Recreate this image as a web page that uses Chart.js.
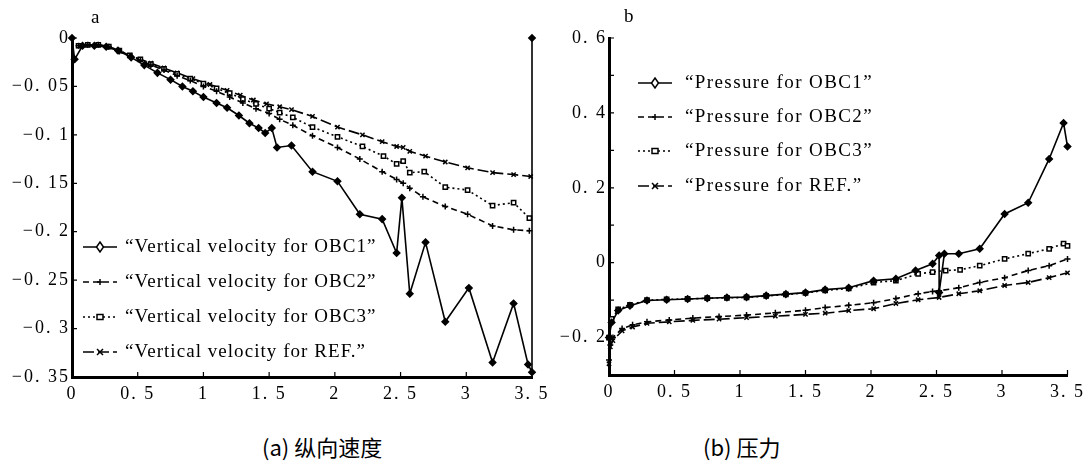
<!DOCTYPE html>
<html>
<head>
<meta charset="utf-8">
<script src="https://cdn.jsdelivr.net/npm/chart.js@4.4.1/dist/chart.umd.min.js"></script>
<style>
  body { margin: 0; background: #fff; width: 1091px; height: 468px; position: relative; overflow: hidden; }
  .panel { position: absolute; top: 0; }
  #wrapA { left: 0; }
  #wrapB { left: 560px; }
  .tag { position: absolute; font-family: "Liberation Serif", serif; font-size: 19px; color: #000; }
  .caption { position: absolute; top: 432px; font-family: "Noto Sans CJK SC", sans-serif; font-size: 22px; color: #000; line-height: 28px; }
</style>
</head>
<body>
<div class="panel" id="wrapA"><canvas id="chartA" width="560" height="410"></canvas></div>
<div class="panel" id="wrapB"><canvas id="chartB" width="531" height="410"></canvas></div>
<div class="tag" style="left:91px; top:6px;">a</div>
<div class="tag" style="left:624px; top:5px;">b</div>
<div class="caption" style="left:262px;">(a) 纵向速度</div>
<div class="caption" style="left:703px;">(b) 压力</div>

<script>
// === (a) vertical velocity ===
const aObc1X = [0, 0.02, 0.08, 0.17, 0.26, 0.35, 0.45, 0.55, 0.65, 0.75, 0.84, 0.92, 1.0, 1.1, 1.18, 1.27, 1.35, 1.42, 1.47, 1.52, 1.56, 1.67, 1.83, 2.02, 2.19, 2.36, 2.47, 2.51, 2.57, 2.69, 2.84, 3.02, 3.2, 3.36, 3.47, 3.5, 3.5];
const aObc1Y = [0, -0.022, -0.008, -0.008, -0.009, -0.013, -0.02, -0.028, -0.036, -0.043, -0.05, -0.055, -0.061, -0.067, -0.072, -0.08, -0.088, -0.093, -0.098, -0.093, -0.113, -0.111, -0.138, -0.148, -0.182, -0.187, -0.222, -0.165, -0.264, -0.211, -0.293, -0.258, -0.335, -0.274, -0.337, -0.345, 0];

const aObc2X = [0.05, 0.12, 0.2, 0.28, 0.36, 0.44, 0.52, 0.6, 0.7, 0.8, 0.9, 1.0, 1.1, 1.2, 1.3, 1.4, 1.5, 1.58, 1.68, 1.83, 2.02, 2.19, 2.36, 2.47, 2.52, 2.57, 2.67, 2.84, 3.01, 3.2, 3.36, 3.48];
const aObc2Y = [-0.008, -0.007, -0.007, -0.009, -0.014, -0.019, -0.023, -0.028, -0.033, -0.039, -0.044, -0.05, -0.055, -0.061, -0.067, -0.073, -0.078, -0.084, -0.09, -0.101, -0.113, -0.125, -0.138, -0.146, -0.15, -0.155, -0.164, -0.174, -0.182, -0.194, -0.198, -0.199];

const aObc3X = [0.05, 0.12, 0.2, 0.28, 0.36, 0.44, 0.52, 0.6, 0.7, 0.8, 0.9, 1.0, 1.1, 1.2, 1.3, 1.4, 1.5, 1.58, 1.68, 1.83, 2.02, 2.21, 2.37, 2.47, 2.52, 2.57, 2.68, 2.84, 3.01, 3.2, 3.36, 3.48];
const aObc3Y = [-0.008, -0.007, -0.007, -0.009, -0.013, -0.018, -0.022, -0.027, -0.032, -0.037, -0.042, -0.047, -0.052, -0.057, -0.063, -0.068, -0.073, -0.077, -0.082, -0.092, -0.102, -0.112, -0.122, -0.13, -0.127, -0.139, -0.138, -0.154, -0.157, -0.173, -0.17, -0.186];

const aRefX = [0.05, 0.12, 0.2, 0.28, 0.36, 0.44, 0.52, 0.6, 0.7, 0.8, 0.92, 1.05, 1.18, 1.28, 1.38, 1.48, 1.58, 1.67, 1.83, 2.02, 2.21, 2.36, 2.47, 2.52, 2.57, 2.69, 2.84, 3.01, 3.2, 3.36, 3.49];
const aRefY = [-0.008, -0.007, -0.007, -0.009, -0.013, -0.018, -0.022, -0.026, -0.031, -0.036, -0.042, -0.048, -0.054, -0.059, -0.064, -0.068, -0.071, -0.074, -0.081, -0.092, -0.1, -0.107, -0.112, -0.113, -0.117, -0.122, -0.128, -0.134, -0.139, -0.141, -0.143];

const aLabels = ["\u201cVertical velocity for OBC1\u201d", "\u201cVertical velocity for OBC2\u201d", "\u201cVertical velocity for OBC3\u201d", "\u201cVertical velocity for REF.\u201d"];

// === (b) pressure ===
const bObc1X = [0, 0.02, 0.07, 0.16, 0.29, 0.44, 0.6, 0.75, 0.9, 1.05, 1.2, 1.35, 1.5, 1.65, 1.83, 2.02, 2.19, 2.34, 2.47, 2.52, 2.52, 2.56, 2.67, 2.83, 3.02, 3.2, 3.36, 3.47, 3.5];
const bObc1Y = [-0.2, -0.16, -0.128, -0.115, -0.101, -0.099, -0.097, -0.095, -0.093, -0.092, -0.088, -0.084, -0.08, -0.072, -0.067, -0.048, -0.043, -0.021, -0.003, 0.019, -0.08, 0.024, 0.024, 0.037, 0.13, 0.16, 0.277, 0.373, 0.31];

const bObc2X = [0, 0.01, 0.03, 0.1, 0.18, 0.29, 0.46, 0.64, 0.84, 1.05, 1.27, 1.5, 1.65, 1.83, 2.02, 2.19, 2.36, 2.47, 2.52, 2.67, 2.83, 3.02, 3.2, 3.36, 3.5];
const bObc2Y = [-0.26, -0.22, -0.2, -0.176, -0.166, -0.158, -0.153, -0.148, -0.144, -0.14, -0.134, -0.127, -0.12, -0.114, -0.107, -0.096, -0.083, -0.077, -0.075, -0.067, -0.053, -0.04, -0.021, -0.008, 0.01];

const bObc3X = [0, 0.02, 0.07, 0.16, 0.29, 0.44, 0.6, 0.75, 0.9, 1.05, 1.2, 1.35, 1.5, 1.65, 1.83, 2.02, 2.19, 2.36, 2.47, 2.57, 2.68, 2.83, 3.02, 3.2, 3.36, 3.47, 3.5];
const bObc3Y = [-0.2, -0.15, -0.125, -0.113, -0.1, -0.098, -0.097, -0.095, -0.094, -0.093, -0.089, -0.085, -0.081, -0.074, -0.069, -0.053, -0.048, -0.03, -0.025, -0.021, -0.019, -0.008, 0.01, 0.024, 0.037, 0.051, 0.045];

const bRefX = [0, 0.01, 0.03, 0.1, 0.18, 0.29, 0.46, 0.64, 0.84, 1.05, 1.27, 1.5, 1.65, 1.83, 2.02, 2.19, 2.36, 2.52, 2.67, 2.83, 3.02, 3.2, 3.36, 3.5];
const bRefY = [-0.27, -0.225, -0.208, -0.182, -0.172, -0.162, -0.158, -0.154, -0.151, -0.147, -0.143, -0.138, -0.135, -0.128, -0.123, -0.109, -0.099, -0.093, -0.083, -0.075, -0.061, -0.053, -0.04, -0.027];

const bLabels = ["\u201cPressure for OBC1\u201d", "\u201cPressure for OBC2\u201d", "\u201cPressure for OBC3\u201d", "\u201cPressure for REF.\u201d"];

const xTicks = [0, 0.5, 1, 1.5, 2, 2.5, 3, 3.5];

// === helpers ===
function pts(xs, ys) {
  return xs.map((x, i) => ({ x: x, y: ys[i] }));
}

function fmt(v) {
  if (Math.abs(v) < 1e-9) return "0";
  let s = Math.abs(v).toFixed(2).replace(/\.?0+$/, "");
  s = s.replace(".", ". ");
  return (v < 0 ? "\u2212" : "") + s;
}

// estilos das 4 curvas: OBC1, OBC2, OBC3, REF
const styles = [
  { dash: [], marker: "diamond" },
  { dash: [6, 4], marker: "plus" },
  { dash: [2, 3], marker: "square" },
  { dash: [11, 4], marker: "cross" }
];
const pointStyleOf = { diamond: "rectRot", plus: "cross", square: "rect", cross: "crossRot" };

function makeSet(label, xs, ys, st) {
  return {
    label: label,
    data: pts(xs, ys),
    borderColor: "#000",
    borderWidth: 1.6,
    borderDash: st.dash,
    pointStyle: pointStyleOf[st.marker],
    pointRadius: st.marker === "diamond" ? 3.2 : 3,
    pointBorderWidth: 1.5,
    pointBorderColor: "#000",
    pointBackgroundColor: st.marker === "square" ? "#fff" : "#000",
    fill: false,
    tension: 0,
    clip: false
  };
}

function drawMarker(ctx, kind, x, y) {
  ctx.save();
  ctx.setLineDash([]);
  ctx.lineWidth = 1.5;
  ctx.strokeStyle = "#000";
  ctx.beginPath();
  if (kind === "diamond") {
    ctx.fillStyle = "#fff";
    ctx.moveTo(x, y - 5); ctx.lineTo(x + 3.5, y); ctx.lineTo(x, y + 5); ctx.lineTo(x - 3.5, y); ctx.closePath();
    ctx.fill(); ctx.stroke();
  } else if (kind === "plus") {
    ctx.moveTo(x - 3, y); ctx.lineTo(x + 3, y); ctx.moveTo(x, y - 3); ctx.lineTo(x, y + 3); ctx.stroke();
  } else if (kind === "square") {
    ctx.fillStyle = "#fff";
    ctx.rect(x - 3, y - 2.5, 6, 5); ctx.fill(); ctx.stroke();
  } else {
    ctx.moveTo(x - 3, y - 3); ctx.lineTo(x + 3, y + 3); ctx.moveTo(x + 3, y - 3); ctx.lineTo(x - 3, y + 3); ctx.stroke();
  }
  ctx.restore();
}

// espaçamento das letras dos rótulos dos eixos (texto impresso bem espaçado)
const tickSpacing = {
  id: "tickSpacing",
  beforeLayout(chart) { if ("letterSpacing" in chart.ctx) chart.ctx.letterSpacing = "2px"; },
  beforeDraw(chart) { if ("letterSpacing" in chart.ctx) chart.ctx.letterSpacing = "2px"; }
};

// legenda desenhada dentro da área do gráfico
const insideLegend = {
  id: "insideLegend",
  afterDatasetsDraw(chart, args, opts) {
    const ctx = chart.ctx;
    opts.labels.forEach((text, i) => {
      const y = opts.rows[i];
      const st = styles[i];
      ctx.save();
      ctx.strokeStyle = "#000";
      ctx.lineWidth = 1.5;
      ctx.setLineDash(st.dash);
      ctx.beginPath();
      ctx.moveTo(opts.x0, y);
      ctx.lineTo(opts.x1, y);
      ctx.stroke();
      ctx.restore();
      drawMarker(ctx, st.marker, (opts.x0 + opts.x1) / 2, y);
      ctx.save();
      ctx.fillStyle = "#000";
      ctx.font = opts.font;
      if ("letterSpacing" in ctx) ctx.letterSpacing = opts.spacing;
      ctx.textBaseline = "middle";
      ctx.fillText(text, opts.textX, y);
      ctx.restore();
    });
  }
};

// ticks para dentro
const innerTicks = {
  id: "innerTicks",
  afterDraw(chart) {
    const ctx = chart.ctx;
    const xs = chart.scales.x, ys = chart.scales.y;
    const area = chart.chartArea;
    ctx.save();
    ctx.strokeStyle = "#000";
    ctx.lineWidth = 1.2;
    ctx.setLineDash([]);
    ctx.beginPath();
    xs.ticks.forEach(t => {
      const px = xs.getPixelForValue(t.value);
      ctx.moveTo(px, area.bottom);
      ctx.lineTo(px, area.bottom - 5);
    });
    ys.ticks.forEach(t => {
      const py = ys.getPixelForValue(t.value);
      ctx.moveTo(area.left, py);
      ctx.lineTo(area.left + 5, py);
    });
    ctx.stroke();
    ctx.restore();
  }
};

function axisOpts(min, max, step, width, height, labelFn) {
  return {
    x: {
      type: "linear", min: 0, max: 3.5,
      grid: { display: false, drawTicks: false },
      border: { display: true, color: "#000", width: 3 },
      afterBuildTicks: s => { s.ticks = xTicks.map(v => ({ value: v })); },
      ticks: { color: "#000", padding: 6, maxRotation: 0, font: { family: "Liberation Serif", size: 18 }, callback: v => fmt(v) },
      afterFit: s => { s.height = height; }
    },
    y: {
      type: "linear", min: min, max: max,
      grid: { display: false, drawTicks: false },
      border: { display: true, color: "#000", width: 3 },
      ticks: { color: "#000", padding: 2, stepSize: step, font: { family: "Liberation Serif", size: 18 }, callback: labelFn },
      afterFit: s => { s.width = width; }
    }
  };
}

Chart.defaults.animation = false;
Chart.defaults.font.family = "Liberation Serif";

new Chart(document.getElementById("chartA"), {
  type: "line",
  data: {
    datasets: [
      makeSet(aLabels[0], aObc1X, aObc1Y, styles[0]),
      makeSet(aLabels[1], aObc2X, aObc2Y, styles[1]),
      makeSet(aLabels[2], aObc3X, aObc3Y, styles[2]),
      makeSet(aLabels[3], aRefX, aRefY, styles[3])
    ]
  },
  options: {
    responsive: false,
    devicePixelRatio: 1,
    layout: { padding: { left: 0, right: 28, top: 38, bottom: 0 } },
    scales: axisOpts(-0.35, 0, 0.05, 72, 33, v => fmt(v)),
    plugins: {
      legend: { display: false },
      tooltip: { enabled: false },
      insideLegend: { labels: aLabels, rows: [247, 282, 317, 352], x0: 83, x1: 117, textX: 125, font: "19px 'Liberation Serif'", spacing: "1.05px" }
    }
  },
  plugins: [tickSpacing, insideLegend, innerTicks]
});

new Chart(document.getElementById("chartB"), {
  type: "line",
  data: {
    datasets: [
      makeSet(bLabels[0], bObc1X, bObc1Y, styles[0]),
      makeSet(bLabels[1], bObc2X, bObc2Y, styles[1]),
      makeSet(bLabels[2], bObc3X, bObc3Y, styles[2]),
      makeSet(bLabels[3], bRefX, bRefY, styles[3])
    ]
  },
  options: {
    responsive: false,
    devicePixelRatio: 1,
    layout: { padding: { left: 0, right: 18, top: 38, bottom: 0 } },
    scales: axisOpts(-0.3, 0.6, 0.1, 49, 35, v => {
      const k = Math.round(v * 10);
      return (k % 2 === 0 && k >= -2) ? fmt(v) : "";
    }),
    plugins: {
      legend: { display: false },
      tooltip: { enabled: false },
      insideLegend: { labels: bLabels, rows: [83, 117, 151, 186], x0: 78, x1: 112, textX: 125, font: "19px 'Liberation Serif'", spacing: "1.4px" }
    }
  },
  plugins: [tickSpacing, insideLegend, innerTicks]
});
</script>
</body>
</html>
